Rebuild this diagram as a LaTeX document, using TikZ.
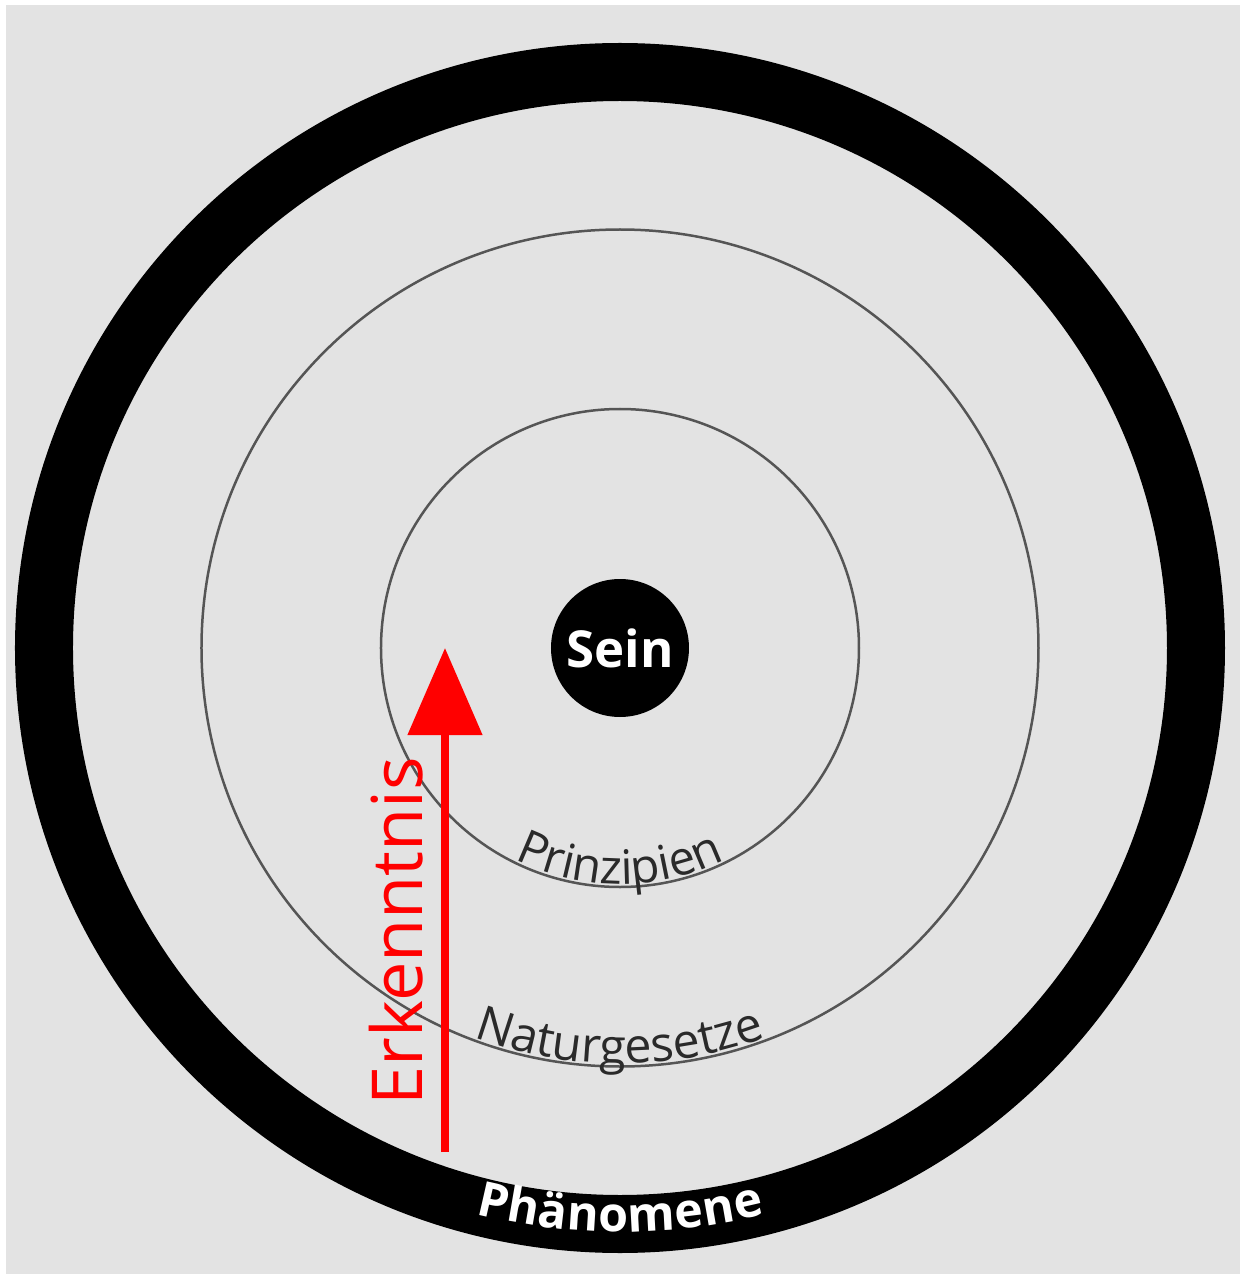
\documentclass[tikz,border=0pt]{standalone}
\usepackage{fontspec}
\setmainfont{Open Sans}
\usetikzlibrary{positioning,arrows.meta,decorations.text}
\definecolor{bggray}{HTML}{E3E3E3}
\definecolor{linegray}{HTML}{555555}
\definecolor{textgray}{HTML}{2A2A2A}
\definecolor{erkred}{HTML}{FF0000}
\tikzset{
  thinring/.style={draw=linegray, line width=0.05cm},
  thickring/.style={draw=black, line width=1.16cm},
  seinnode/.style={circle, fill=black, minimum size=2.76cm, inner sep=0pt, text=white, font=\bfseries\fontsize{29}{34}\selectfont},
  erkarrow/.style={-{Triangle[length=1.74cm, width=1.46cm]}, line width=0.16cm, draw=erkred},
  erklabel/.style={rotate=90, inner sep=0pt, text=erkred, font=\fontsize{40}{48}\selectfont}
}
\begin{document}
\begin{tikzpicture}
  \useasboundingbox (-12.4,12.96) rectangle (12.4,-12.52);
  \fill[bggray] (-12.28,12.86) rectangle (12.4,-12.52);

  % rings
  \draw[thickring] (0,0) circle[radius=11.52cm];
  \draw[thinring] (0,0) circle[radius=8.37cm];
  \draw[thinring] (0,0) circle[radius=4.78cm];
  \node[seinnode] (sein) at (0,0) {Sein};

  % ring labels
  \path[decorate, decoration={text along path, text align=center, raise=0.06cm, text color=textgray,
      text={|\fontsize{27}{32}\selectfont|Prinzipien}}]
    (180:4.78cm) arc[start angle=180, end angle=360, radius=4.78cm];
  \path[decorate, decoration={text along path, text align=center, raise=0.06cm, text color=textgray,
      text={|\fontsize{27.5}{33}\selectfont|Naturgesetze}}]
    (180:8.37cm) arc[start angle=180, end angle=360, radius=8.37cm];
  \path[decorate, decoration={text along path, text align=center, raise=-0.16cm, text color=white,
      text={|\bfseries\fontsize{27.5}{33}\selectfont|Phänomene}}]
    (180:11.52cm) arc[start angle=180, end angle=360, radius=11.52cm];

  % Erkenntnis
  \coordinate (erkfoot) at (-3.5,-10.08);
  \coordinate (erktip) at (-3.5,0);
  \draw[erkarrow] (erkfoot) -- (erktip);
  \node[erklabel] (erk) at (-4.48,-5.66) {Erkenntnis};
\end{tikzpicture}
\end{document}
